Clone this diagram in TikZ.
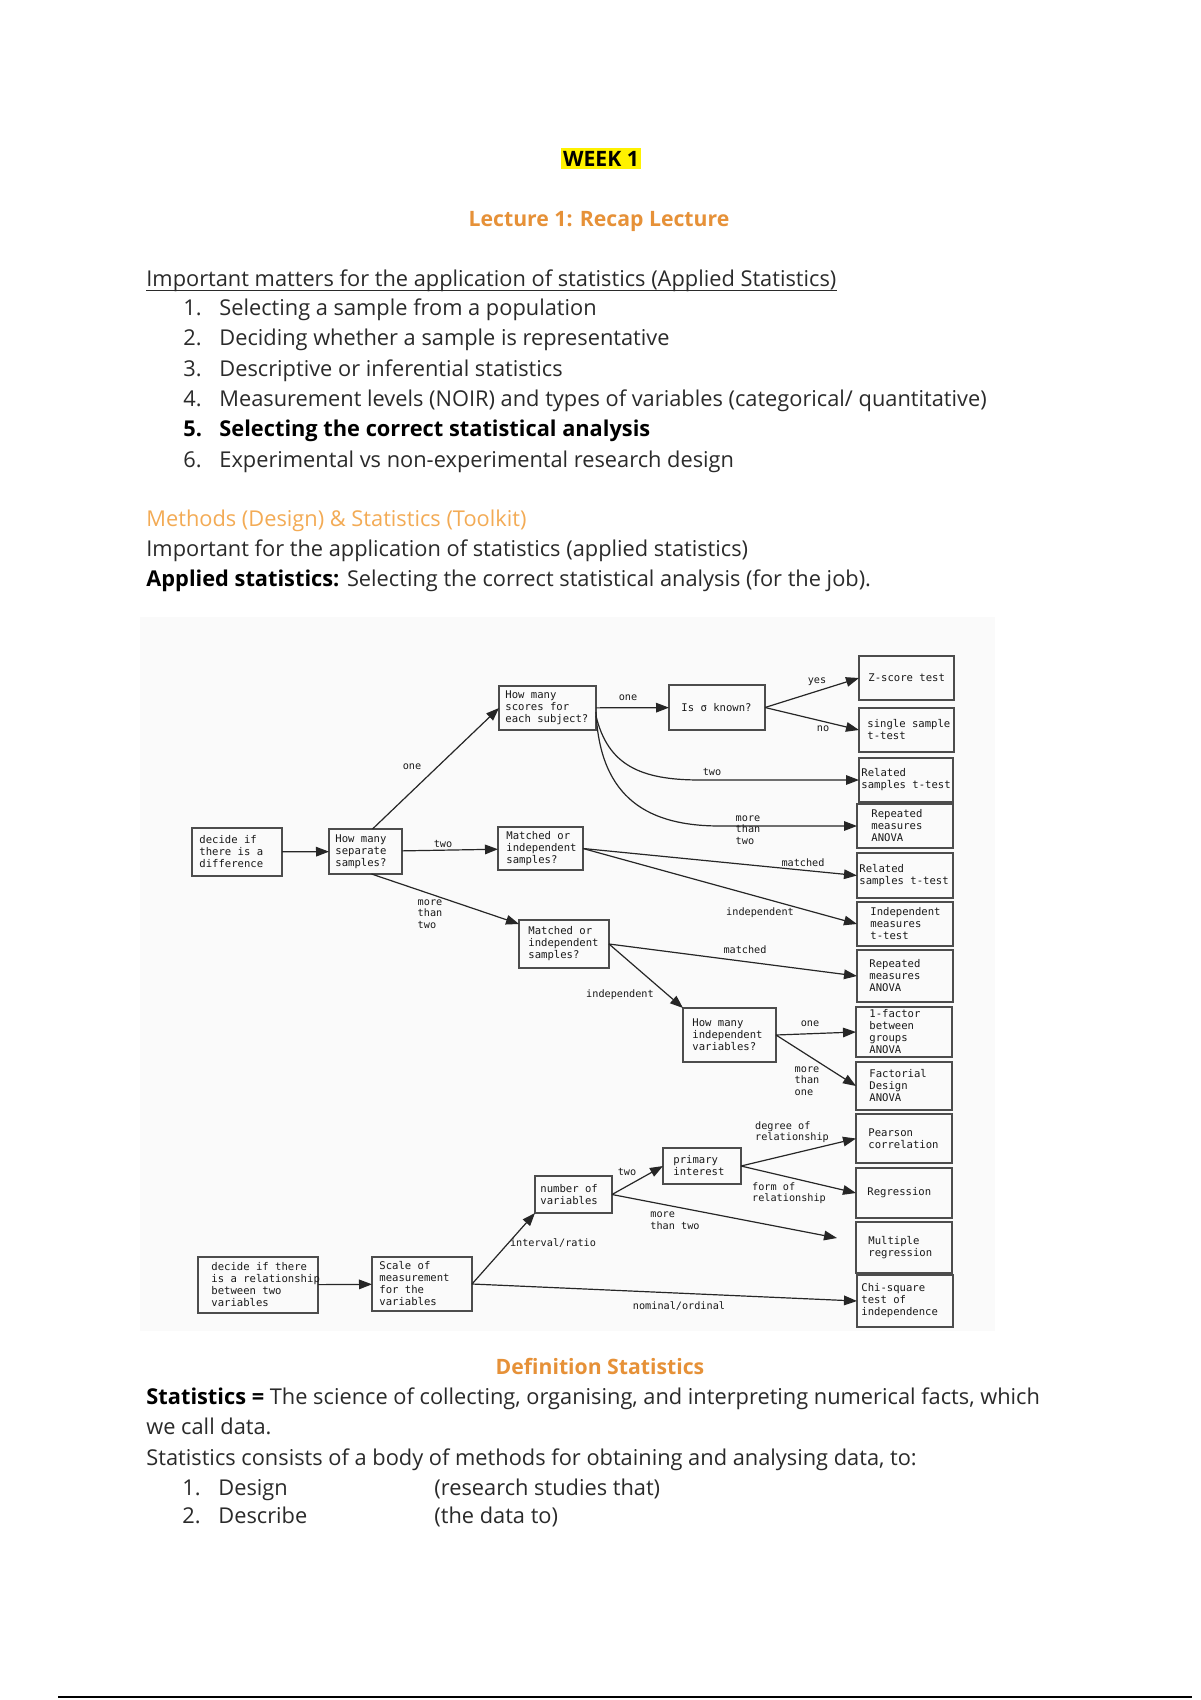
\documentclass[tikz,border=0pt]{standalone}
\usepackage{fontspec}
\setmainfont{Open Sans}
\newfontfamily\diagfont{DejaVu Sans Mono}
\usetikzlibrary{arrows.meta,calc}
\definecolor{orangeA}{HTML}{E69138}
\definecolor{orangeB}{HTML}{F3AB55}
\definecolor{txt}{HTML}{2A2A2A}
\newcommand\dbox[7]{%
  \pgfmathsetmacro\dbw{(#4-#2)*0.5}%
  \pgfmathsetmacro\dbh{(#5-#3)*0.5}%
  \node[box, minimum width=\dbw pt, minimum height=\dbh pt, anchor=north west] (#1) at (#2,#3) {};%
  \node[boxtxt, anchor=west] (#1t) at ($(#1.west)+(#6,0)$) {#7};}
\begin{document}
\begin{tikzpicture}[x=0.5pt,y=-0.5pt,
  box/.style={draw=black!70, line width=0.9pt, inner sep=0pt, outer sep=0pt},
  boxtxt/.style={font=\diagfont\fontsize{5.3}{6}\selectfont, text=black!90, inner sep=0pt, align=left},
  lbl/.style={font=\diagfont\fontsize{5.1}{5.8}\selectfont, text=black!90, inner sep=0pt, align=left},
  arr/.style={draw=black!85, line width=0.6pt, -{Triangle[length=6.5pt,width=4.8pt]}},
  body/.style={font=\fontsize{10.9}{13}\selectfont, text=txt, inner sep=0pt, anchor=base west},
  head/.style={font=\fontsize{10.6}{13}\selectfont\bfseries, inner sep=0pt, anchor=base},
]
\useasboundingbox (0,0) rectangle (1200,1700);
\fill[white] (0,0) rectangle (1200,1700);

% ---------- header ----------
\node[fill=yellow, minimum width=40pt, minimum height=10.5pt, inner sep=0pt,
      font=\fontsize{10.6}{13}\selectfont\bfseries, text=black] (wk) at (601,159) {WEEK 1};
\node[head, text=orangeA] (lec) at (599,227) {Lecture 1: Recap Lecture};

\node[body] (h1) at (146,287) {Important matters for the application of statistics (Applied Statistics)};
\draw[txt, line width=0.5pt] ([yshift=-1.6pt]h1.base west) -- ([yshift=-1.6pt]h1.base east);

\node[body] (n1) at (183,316) {1.};
\node[body] (t1) at (219,316) {Selecting a sample from a population};
\node[body] (n2) at (183,346) {2.};
\node[body] (t2) at (219,346) {Deciding whether a sample is representative};
\node[body] (n3) at (183,377) {3.};
\node[body] (t3) at (219,377) {Descriptive or inferential statistics};
\node[body] (n4) at (183,407) {4.};
\node[body] (t4) at (219,407) {Measurement levels (NOIR) and types of variables (categorical/ quantitative)};
\node[body, font=\fontsize{10.9}{13}\selectfont\bfseries, text=black] (n5) at (183,437) {5.};
\node[body, font=\fontsize{10.9}{13}\selectfont\bfseries, text=black] (t5) at (219,437) {Selecting the correct statistical analysis};
\node[body] (n6) at (183,467) {6.};
\node[body] (t6) at (219,467) {Experimental vs non-experimental research design};

\node[body, text=orangeB] (m1) at (146,526) {Methods (Design) \& Statistics (Toolkit)};
\node[body] (m2) at (146,556) {Important for the application of statistics (applied statistics)};
\node[body] (m3) at (146,586) {\textbf{\color{black}Applied statistics:} Selecting the correct statistical analysis (for the job).};

% ---------- diagram ----------
\fill[black!2] (140,617) rectangle (995,1331);

\dbox{b1}{192}{828}{282}{876}{7}{decide if\\there is a\\difference}
\dbox{b2}{329}{829}{402}{874}{6}{How many\\separate\\samples?}
\dbox{b3}{499}{686}{596}{730}{6}{How many\\scores for\\each subject?}
\dbox{b4}{669}{685}{765}{730}{12}{Is σ known?}
\dbox{b5}{859}{656}{954}{700}{9}{Z-score test}
\dbox{b6}{859}{708}{954}{752}{8}{single sample\\t-test}
\dbox{b7}{859}{758}{953}{802}{2}{Related\\samples t-test}
\dbox{b8}{857}{804}{953}{848}{14}{Repeated\\measures\\ANOVA}
\dbox{b9}{498}{827}{583}{870}{8}{Matched or\\independent\\samples?}
\dbox{b10}{857}{853}{953}{898}{2}{Related\\samples t-test}
\dbox{b11}{857}{902}{953}{946}{13}{Independent\\measures\\t-test}
\dbox{b12}{519}{920}{609}{968}{9}{Matched or\\independent\\samples?}
\dbox{b13}{857}{950}{953}{1002}{12}{Repeated\\measures\\ANOVA}
\dbox{b14}{683}{1008}{776}{1062}{9}{How many\\independent\\variables?}
\dbox{b15}{856}{1007}{952}{1057}{13}{1-factor\\between\\groups\\ANOVA}
\dbox{b16}{856}{1062}{952}{1110}{13}{Factorial\\Design\\ANOVA}
\dbox{b17}{856}{1114}{952}{1163}{12}{Pearson\\correlation}
\dbox{b18}{856}{1168}{952}{1218}{11}{Regression}
\dbox{b19}{856}{1222}{952}{1273}{12}{Multiple\\regression}
\dbox{b20}{857}{1275}{953}{1327}{4}{Chi-square\\test of\\independence}
\dbox{b21}{663}{1148}{741}{1184}{10}{primary\\interest}
\dbox{b22}{535}{1176}{612}{1213}{5}{number of\\variables}
\dbox{b23}{198}{1257}{318}{1313}{13}{decide if there\\is a relationship\\between two\\variables}
\dbox{b24}{372}{1257}{472}{1311}{7}{Scale of\\measurement\\for the\\variables}

% connectors
\draw[arr] (b1) -- (b2);
\draw[arr] ([xshift=3.5pt]b2.north) -- (b3.west);
\node[lbl] (l1) at (412,767) {one};
\draw[arr] (b2) -- (b9);
\node[lbl] (l2) at (443,844) {two};
\draw[arr] ([xshift=3pt]b2.south) -- ($(b12.north west)+(0,4)$);
\node[lbl] (l3) at (430,914) {more\\than\\two};

\draw[arr] (b3) -- (b4);
\node[lbl] (l4) at (628,698) {one};
\draw[arr] (b4.east) -- (b5.west);
\node[lbl] (l5) at (817,682) {yes};
\draw[arr] (b4.east) -- (b6.west);
\node[lbl] (l6) at (823,729) {no};
\draw[arr] ([yshift=-4pt]b3.east) .. controls (608,765) and (640,780) .. (700,780) -- (b7.west);
\node[lbl] (l7) at (712,772) {two};
\draw[arr] ([yshift=-2pt]b3.east) .. controls (600,800) and (650,826) .. (720,826) -- (b8.west);
\node[lbl] (l8) at (748,830) {more\\than\\two};

\draw[arr] (b9.east) -- (b10.west);
\node[lbl] (l9) at (803,863) {matched};
\draw[arr] (b9.east) -- (b11.west);
\node[lbl] (l10) at (760,913) {independent};

\draw[arr] (b12.east) -- (b13.west);
\node[lbl] (l11) at (745,950) {matched};
\draw[arr] (b12.east) -- (b14.north west);
\node[lbl] (l12) at (620,995) {independent};

\draw[arr] (b14.east) -- (b15.west);
\node[lbl] (l13) at (810,1024) {one};
\draw[arr] (b14.east) -- (b16.west);
\node[lbl] (l14) at (807,1081) {more\\than\\one};

\draw[arr] (b23) -- (b24);
\draw[arr] (b24.east) -- (b22.south west);
\node[lbl] (l15) at (553,1243) {interval/ratio};
\draw[arr] (b24.east) -- (b20.west);
\node[lbl] (l16) at (679,1306) {nominal/ordinal};
\draw[arr] (b22.east) -- (b21.west);
\node[lbl] (l17) at (627,1172) {two};
\coordinate (mr) at (837,1238);
\draw[arr] (b22.east) -- (mr);
\node[lbl] (l18) at (675,1221) {more\\than two};
\draw[arr] (b21.east) -- (b17.west);
\node[lbl] (l19) at (792,1132) {degree of\\relationship};
\draw[arr] (b21.east) -- (b18.west);
\node[lbl] (l20) at (789,1193) {form of\\relationship};

% ---------- definition ----------
\node[head, text=orangeA] (def) at (600,1374) {Definition Statistics};
\node[body] (d1) at (146,1404) {\textbf{\color{black}Statistics =} The science of collecting, organising, and interpreting numerical facts, which};
\node[body] (d2) at (146,1434) {we call data.};
\node[body] (d3) at (146,1465) {Statistics consists of a body of methods for obtaining and analysing data, to:};
\node[body] (e1n) at (182,1495) {1.};
\node[body] (e1) at (218,1495) {Design};
\node[body] (e1b) at (434,1495) {(research studies that)};
\node[body] (e2n) at (182,1523) {2.};
\node[body] (e2) at (218,1523) {Describe};
\node[body] (e2b) at (434,1523) {(the data to)};

\draw[black, line width=1.2pt] (58,1697) -- (1192,1697);
\end{tikzpicture}
\end{document}
